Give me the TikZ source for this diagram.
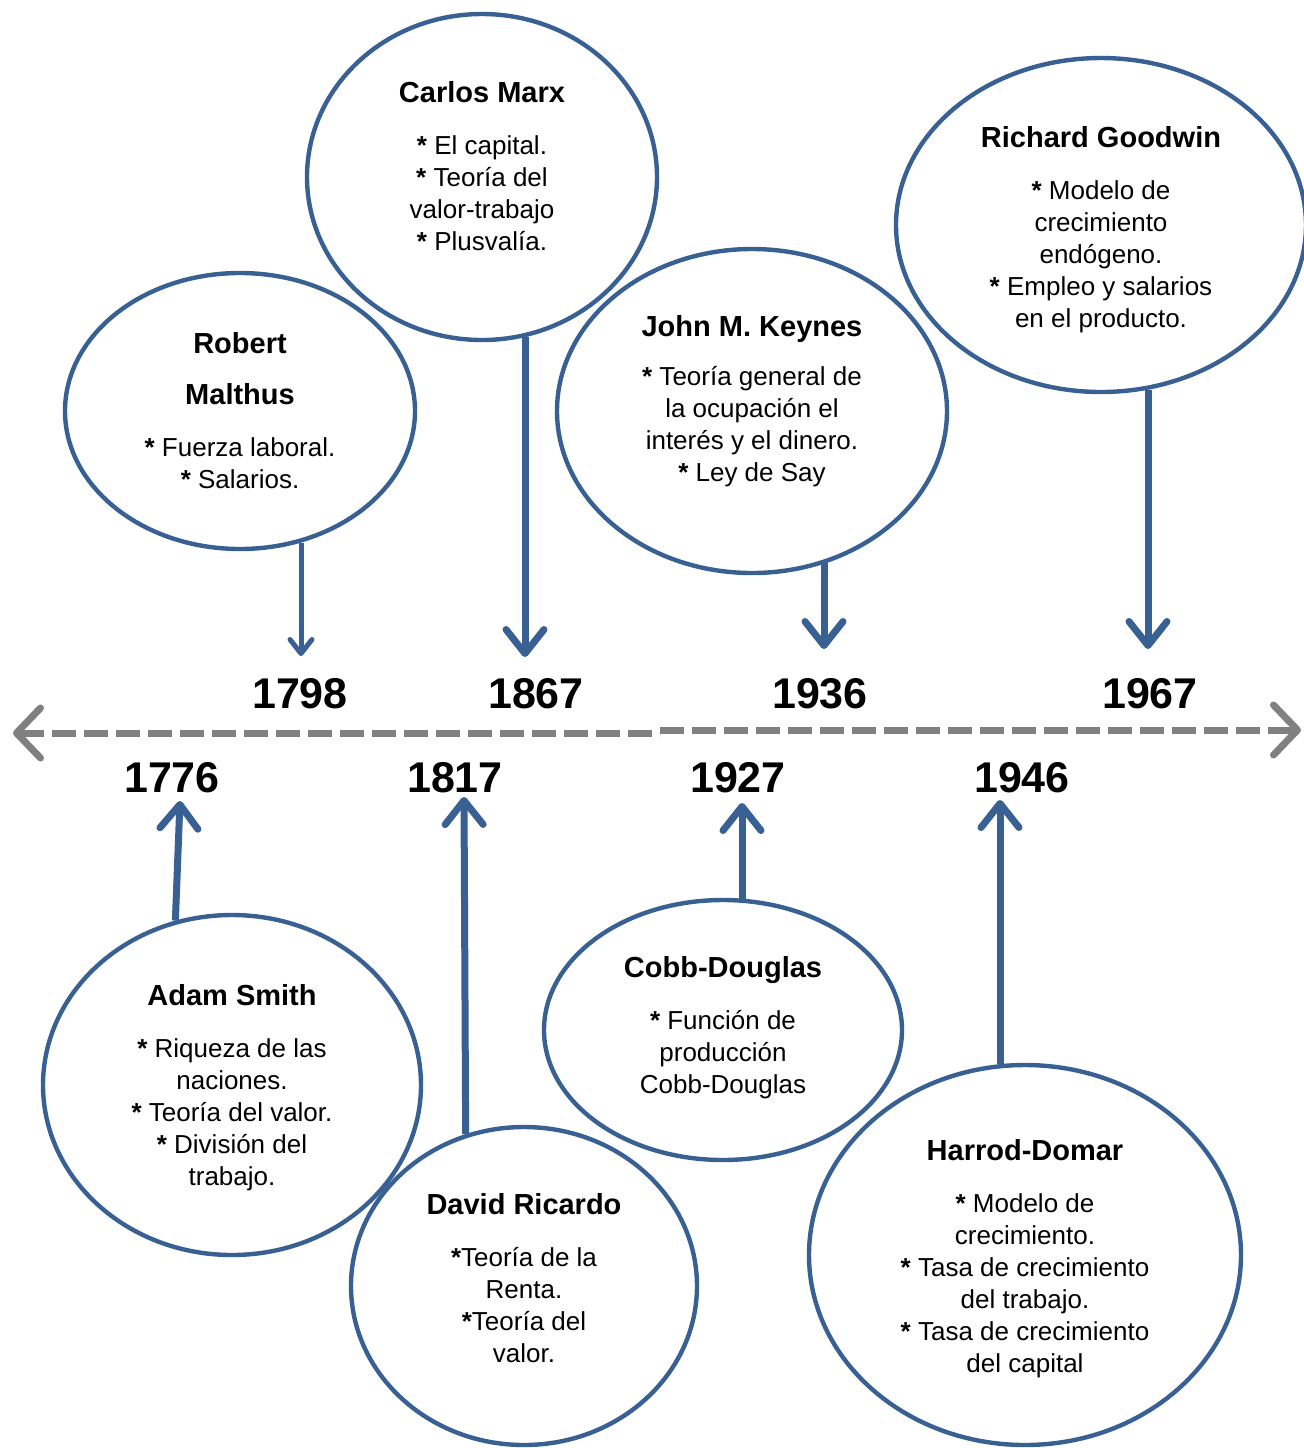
\documentclass[tikz,border=0pt]{standalone}
\usepackage{fontspec}
\setmainfont{Liberation Sans}
\usetikzlibrary{shapes.geometric,arrows.meta}

\definecolor{ejeazul}{RGB}{56,96,146}
\definecolor{ejegris}{RGB}{128,128,128}

\tikzset{
	autor/.style={draw=ejeazul, line width=2.2pt, ellipse, inner sep=0pt},
	texto/.style={align=center, inner sep=0pt, font=\fontsize{13}{16}\selectfont},
	anio/.style={font=\fontsize{21.5}{24}\selectfont\bfseries, inner sep=0pt},
	flecha/.style={draw=ejeazul, line width=3.5pt, -{Straight Barb[round,length=12pt,width=19pt]}},
	flechita/.style={draw=ejeazul, line width=2.5pt, -{Straight Barb[round,length=7pt,width=11pt]}},
	linea/.style={draw=ejegris, line width=3.5pt, dash pattern=on 12pt off 4pt}
}
\newcommand{\nombre}[1]{{\fontsize{14.5}{16}\selectfont\bfseries #1}}

\begin{document}
\begin{tikzpicture}[x=0.5pt,y=-0.5pt]
	\useasboundingbox (0,0) rectangle (1304,1448);

	% linea de tiempo
	\coordinate (izq) at (13,733);
	\coordinate (medio1) at (660,733);
	\coordinate (medio2) at (660,730);
	\coordinate (der) at (1301,730);
	\draw[linea, {Straight Barb[round,length=12pt,width=25pt]}-] (izq) -- (medio1);
	\draw[linea, -{Straight Barb[round,length=12pt,width=25pt]}] (medio2) -- (der);

	% anios
	\node[anio] (y1798) at (300,694) {1798};
	\node[anio] (y1867) at (536,694) {1867};
	\node[anio] (y1936) at (820,694) {1936};
	\node[anio] (y1967) at (1150,694) {1967};
	\node[anio] (y1776) at (172,778) {1776};
	\node[anio] (y1817) at (455,778) {1817};
	\node[anio] (y1927) at (738,778) {1927};
	\node[anio] (y1946) at (1022,778) {1946};

	% autores arriba
	\node[autor, minimum width=175pt, minimum height=163pt] (marx) at (482,177) {};
	\node[texto] (marx txt) at (482,166)
		{\nombre{Carlos Marx}\\[10pt] \textbf{*} El capital.\\ \textbf{*} Teoría del\\ valor-trabajo\\ \textbf{*} Plusvalía.};
	\node[autor, minimum width=175pt, minimum height=138pt] (malthus) at (240,411) {};
	\node[texto] (malthus txt) at (240,411)
		{\nombre{Robert}\\[9.5pt] \nombre{Malthus}\\[10pt] \textbf{*} Fuerza laboral.\\ \textbf{*} Salarios.};
	\node[autor, minimum width=195pt, minimum height=162pt] (keynes) at (752,411) {};
	\node[texto] (keynes txt) at (752,401)
		{\nombre{John M. Keynes}\\[8.5pt] \textbf{*} Teoría general de\\ la ocupación el\\ interés y el dinero.\\ \textbf{*} Ley de Say};
	\node[autor, minimum width=205pt, minimum height=167pt] (goodwin) at (1101,225) {};
	\node[texto] (goodwin txt) at (1101,230)
		{\nombre{Richard Goodwin}\\[10pt] \textbf{*} Modelo de\\ crecimiento\\ endógeno.\\ \textbf{*} Empleo y salarios\\ en el producto.};

	% autores abajo
	\node[autor, minimum width=189pt, minimum height=170pt] (smith) at (232,1085) {};
	\node[texto] (smith txt) at (232,1088)
		{\nombre{Adam Smith}\\[10pt] \textbf{*} Riqueza de las\\ naciones.\\ \textbf{*} Teoría del valor.\\ \textbf{*} División del\\ trabajo.};
	\node[autor, minimum width=173pt, minimum height=159pt] (ricardo) at (524,1286) {};
	\node[texto] (ricardo txt) at (524,1278)
		{\nombre{David Ricardo}\\[10pt] \textbf{*}Teoría de la\\ Renta.\\ \textbf{*}Teoría del\\ valor.};
	\node[autor, minimum width=179pt, minimum height=130pt] (cobb) at (723,1030) {};
	\node[texto] (cobb txt) at (723,1028)
		{\nombre{Cobb-Douglas}\\[10pt] \textbf{*} Función de\\ producción\\ Cobb-Douglas};
	\node[autor, minimum width=216pt, minimum height=190pt] (harrod) at (1025,1255) {};
	\node[texto] (harrod txt) at (1025,1259)
		{\nombre{Harrod-Domar}\\[10pt] \textbf{*} Modelo de\\ crecimiento.\\ \textbf{*} Tasa de crecimiento\\ del trabajo.\\ \textbf{*} Tasa de crecimiento\\ del capital};

	% puntas de flecha
	\coordinate (p1798) at (301,656);
	\coordinate (p1867) at (525,657);
	\coordinate (p1936) at (824,649);
	\coordinate (p1967) at (1148,649);
	\coordinate (p1776) at (180,801);
	\coordinate (p1817) at (464,797);
	\coordinate (p1927) at (742,803);
	\coordinate (p1946) at (1000,800);

	\draw[flechita] (p1798 |- malthus.-65) -- (p1798);
	\draw[flecha] (p1867 |- marx.-75) -- (p1867);
	\draw[flecha] (p1936 |- keynes.-64) -- (p1936);
	\draw[flecha] (p1967 |- goodwin.-74) -- (p1967);
	\draw[flecha] (smith.109) -- (p1776);
	\draw[flecha] (ricardo.111) -- (p1817);
	\draw[flecha] (p1927 |- cobb.82) -- (p1927);
	\draw[flecha] (p1946 |- harrod.97.5) -- (p1946);
\end{tikzpicture}
\end{document}
